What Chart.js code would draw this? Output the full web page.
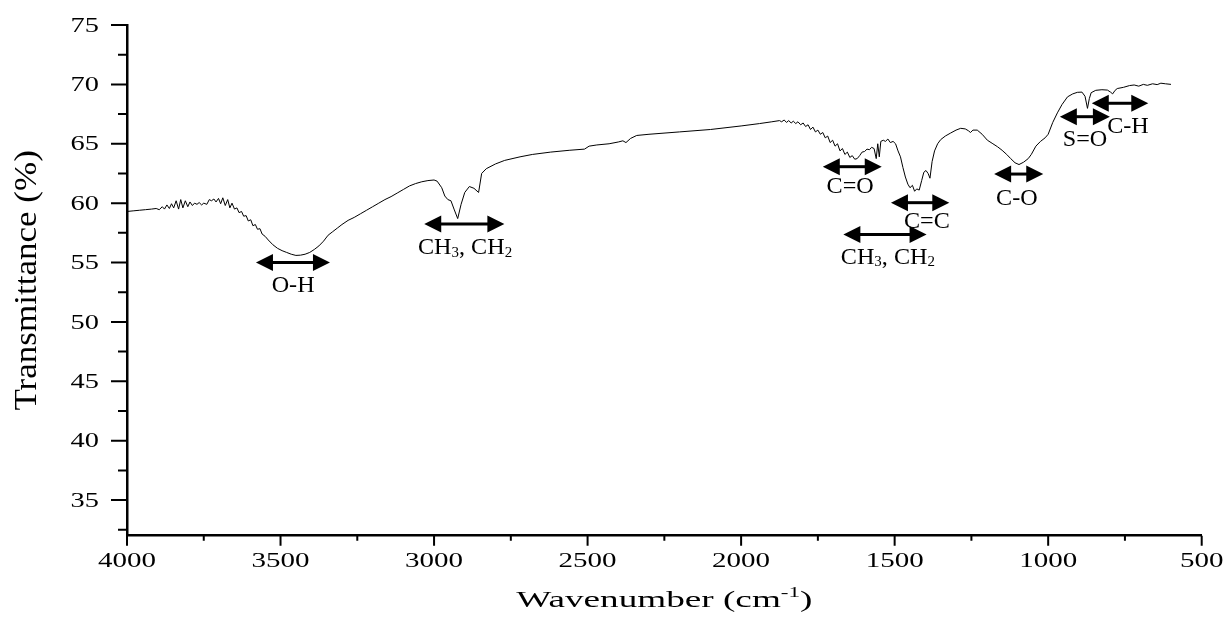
<!DOCTYPE html>
<html>
<head>
<meta charset="utf-8">
<script src="https://cdn.jsdelivr.net/npm/chart.js@4/dist/chart.umd.min.js"></script>
<style>
    html, body { margin: 0; padding: 0; background: #fff; }
    #wrap { width: 1227px; height: 617px; }
</style>
</head>
<body>
<div id="wrap"><canvas id="ftir" width="1227" height="617"></canvas></div>
<script>
// FTIR spectrum, values (cm-1, %T)
const wavenumbers = [
    4000, 3980, 3960, 3940, 3920, 3905, 3895, 3885, 3878, 3870, 3862, 3855, 3848, 3840, 3832, 3825,
    3818, 3810, 3802, 3795, 3787, 3780, 3772, 3765, 3757, 3750, 3740, 3732, 3725, 3717, 3710, 3702,
    3695, 3688, 3680, 3672, 3665, 3658, 3650, 3642, 3635, 3627, 3620, 3612, 3605, 3597, 3590, 3582,
    3575, 3567, 3560, 3550, 3540, 3525, 3510, 3495, 3480, 3465, 3450, 3435, 3420, 3405, 3390, 3375,
    3360, 3345, 3330, 3315, 3300, 3280, 3260, 3240, 3220, 3200, 3180, 3160, 3140, 3120, 3100, 3080,
    3060, 3040, 3020, 3000, 2990, 2975, 2965, 2955, 2945, 2935, 2923, 2912, 2900, 2885, 2870, 2855,
    2845, 2830, 2800, 2770, 2720, 2680, 2620, 2560, 2510, 2495, 2470, 2430, 2400, 2385, 2375, 2360,
    2340, 2300, 2200, 2100, 2000, 1940, 1900, 1875, 1868, 1860, 1852, 1845, 1837, 1830, 1822, 1815,
    1806, 1798, 1790, 1782, 1774, 1766, 1758, 1750, 1742, 1734, 1726, 1718, 1710, 1702, 1694, 1686,
    1678, 1670, 1662, 1654, 1646, 1638, 1630, 1622, 1614, 1606, 1598, 1590, 1582, 1575, 1567, 1560,
    1555, 1550, 1545, 1537, 1530, 1522, 1514, 1505, 1497, 1489, 1481, 1473, 1465, 1457, 1450, 1442,
    1435, 1428, 1420, 1412, 1405, 1398, 1391, 1385, 1378, 1370, 1360, 1350, 1335, 1318, 1300, 1285,
    1270, 1260, 1253, 1245, 1231, 1215, 1198, 1180, 1165, 1150, 1135, 1122, 1108, 1095, 1080, 1065,
    1055, 1040, 1025, 1010, 1000, 985, 970, 955, 937, 920, 905, 890, 880, 872, 866, 860,
    845, 825, 807, 797, 790, 782, 775, 755, 735, 720, 705, 690, 677, 660, 645, 633,
    618, 600
];
const transmittance = [
    59.30, 59.35, 59.40, 59.45, 59.50, 59.55, 59.45, 59.70, 59.50, 59.85, 59.55, 59.95, 59.60, 60.20, 59.50, 60.30,
    59.60, 60.20, 59.70, 60.10, 59.80, 60.00, 59.90, 60.05, 59.85, 60.00, 59.90, 60.30, 60.20, 60.35, 60.10, 60.40,
    59.95, 60.45, 59.80, 60.30, 59.60, 60.00, 59.50, 59.60, 59.20, 59.30, 58.90, 58.95, 58.50, 58.60, 58.10, 58.20,
    57.80, 57.85, 57.40, 57.20, 56.90, 56.50, 56.20, 56.00, 55.85, 55.70, 55.60, 55.62, 55.70, 55.85, 56.10, 56.40,
    56.80, 57.30, 57.60, 57.90, 58.20, 58.55, 58.80, 59.10, 59.40, 59.70, 60.00, 60.30, 60.55, 60.85, 61.15, 61.45,
    61.65, 61.80, 61.90, 61.95, 61.85, 61.30, 60.60, 60.30, 60.20, 59.50, 58.70, 59.90, 60.90, 61.40, 61.25, 60.90,
    62.50, 62.90, 63.30, 63.60, 63.90, 64.10, 64.30, 64.45, 64.55, 64.80, 64.90, 65.00, 65.15, 65.25, 65.10, 65.45,
    65.70, 65.80, 66.00, 66.20, 66.50, 66.70, 66.85, 66.95, 66.85, 67.00, 66.80, 66.95, 66.75, 66.90, 66.70, 66.85,
    66.60, 66.75, 66.45, 66.60, 66.20, 66.40, 66.00, 66.15, 65.80, 65.95, 65.50, 65.65, 65.10, 65.30, 64.80, 65.00,
    64.40, 64.60, 64.10, 64.30, 63.85, 64.00, 63.70, 63.75, 64.00, 64.30, 64.35, 64.55, 64.50, 64.70, 64.60, 63.75,
    65.00, 63.90, 65.20, 65.30, 65.20, 65.40, 65.10, 65.20, 65.00, 64.40, 63.90, 63.00, 62.20, 61.60, 61.30, 61.50,
    61.00, 61.20, 61.10, 61.90, 62.60, 62.75, 62.50, 62.10, 63.50, 64.40, 65.00, 65.35, 65.65, 65.90, 66.15, 66.30,
    66.25, 66.10, 65.95, 66.15, 66.15, 65.80, 65.30, 65.00, 64.75, 64.45, 64.10, 63.75, 63.40, 63.25, 63.45, 63.75,
    64.10, 64.80, 65.20, 65.50, 65.80, 66.80, 67.60, 68.30, 68.95, 69.20, 69.33, 69.35, 69.00, 67.98, 68.80, 69.30,
    69.50, 69.55, 69.52, 69.35, 69.20, 69.50, 69.65, 69.75, 69.90, 69.95, 69.85, 70.00, 69.92, 70.05, 69.98, 70.10,
    70.05, 70.00
];

// Axis ticks
const xMajorTicks = [4000, 3500, 3000, 2500, 2000, 1500, 1000, 500];
const xMinorTicks = [3750, 3250, 2750, 2250, 1750, 1250, 750];
const yMajorTicks = [35, 40, 45, 50, 55, 60, 65, 70, 75];
const yMinorTicks = [32.5, 37.5, 42.5, 47.5, 52.5, 57.5, 62.5, 67.5, 72.5];

// Band assignments: arrow span (cm-1) at a %T level, label position
const bandNames = ['O-H', 'CH_3, CH_2', 'C=O', 'C=C', 'CH_3, CH_2', 'C-O', 'S=O', 'C-H'];
const bandStart = [3580, 3032, 1734, 1512, 1667, 1176, 962, 858];
const bandEnd = [3339, 2771, 1542, 1322, 1396, 1016, 799, 674];
const bandLevel = [55.0, 58.24, 63.07, 60.04, 57.37, 62.45, 67.28, 68.41];
const labelWave = [3459, 2899, 1645, 1395, 1522, 1102, 880, 740];
const labelLevel = [53.0, 56.2, 61.35, 58.4, 55.4, 60.35, 65.3, 66.4];

const SERIF = '"Liberation Serif", "Times New Roman", serif';

// Split "CH_3" / "cm^{-1}" into plain, subscript and superscript runs
function parseRuns(text) {
    const runs = [];
    const re = /([_^])(\{[^}]*\}|.)|[^_^]+/g;
    let m;
    while ((m = re.exec(text))) {
        if (m[1]) {
            runs.push({ t: m[2].replace(/[{}]/g, ''), shift: m[1] === '_' ? 'sub' : 'sup' });
        } else {
            runs.push({ t: m[0], shift: null });
        }
    }
    return runs;
}

// Draw text with optional horizontal stretch (the original figure is stretched)
function drawRichText(ctx, text, x, y, size, stretch, align) {
    const runs = parseRuns(text);
    let width = 0;
    runs.forEach(r => {
        r.size = r.shift ? size * 0.62 : size;
        ctx.font = `${r.size}px ${SERIF}`;
        r.w = ctx.measureText(r.t).width;
        width += r.w;
    });
    ctx.save();
    ctx.translate(x, y);
    ctx.scale(stretch, 1);
    ctx.textAlign = 'left';
    let cx = align === 'right' ? -width : (align === 'left' ? 0 : -width / 2);
    runs.forEach(r => {
        ctx.font = `${r.size}px ${SERIF}`;
        const dy = r.shift === 'sub' ? size * 0.2 : (r.shift === 'sup' ? -size * 0.42 : 0);
        ctx.fillText(r.t, cx, dy);
        cx += r.w;
    });
    ctx.restore();
}

// Tick marks, tick labels and axis titles
const axisDecor = {
    id: 'axisDecor',
    afterDraw(chart) {
        const { ctx, chartArea, scales: { x, y } } = chart;
        const bottom = chartArea.bottom;
        const left = chartArea.left;
        ctx.save();
        ctx.strokeStyle = '#000';
        ctx.fillStyle = '#000';
        ctx.lineWidth = 2;

        ctx.beginPath();
        xMajorTicks.forEach(v => {
            const px = x.getPixelForValue(v);
            ctx.moveTo(px, bottom); ctx.lineTo(px, bottom + 10);
        });
        xMinorTicks.forEach(v => {
            const px = x.getPixelForValue(v);
            ctx.moveTo(px, bottom); ctx.lineTo(px, bottom + 5);
        });
        yMajorTicks.forEach(v => {
            const py = y.getPixelForValue(v);
            ctx.moveTo(left, py); ctx.lineTo(left - 16, py);
        });
        yMinorTicks.forEach(v => {
            const py = y.getPixelForValue(v);
            ctx.moveTo(left, py); ctx.lineTo(left - 9, py);
        });
        ctx.stroke();

        ctx.textBaseline = 'alphabetic';
        xMajorTicks.forEach(v => {
            drawRichText(ctx, String(v), x.getPixelForValue(v), bottom + 31, 20, 1.45, 'center');
        });
        yMajorTicks.forEach(v => {
            drawRichText(ctx, String(v), left - 28, y.getPixelForValue(v) + 6.7, 20, 1.42, 'right');
        });

        drawRichText(ctx, 'Wavenumber (cm^{-1})', (chartArea.left + chartArea.right) / 2, bottom + 71, 24, 1.55, 'center');

        ctx.save();
        ctx.translate(28, (chartArea.top + chartArea.bottom) / 2);
        ctx.rotate(-Math.PI / 2);
        ctx.textBaseline = 'middle';
        drawRichText(ctx, 'Transmittance (%)', 0, 0, 31, 1.13, 'center');
        ctx.restore();

        ctx.restore();
    }
};

// Double-headed arrows and band labels
const bandMarks = {
    id: 'bandMarks',
    afterDatasetsDraw(chart) {
        const { ctx, scales: { x, y } } = chart;
        const head = 17, half = 8.5;
        ctx.save();
        ctx.strokeStyle = '#000';
        ctx.fillStyle = '#000';
        bandNames.forEach((name, i) => {
            const a = x.getPixelForValue(bandStart[i]);
            const b = x.getPixelForValue(bandEnd[i]);
            const l = Math.min(a, b), r = Math.max(a, b);
            const py = y.getPixelForValue(bandLevel[i]);
            ctx.lineWidth = 3;
            ctx.beginPath();
            ctx.moveTo(l + head - 1, py); ctx.lineTo(r - head + 1, py);
            ctx.stroke();
            ctx.beginPath();
            ctx.moveTo(l, py); ctx.lineTo(l + head, py - half); ctx.lineTo(l + head, py + half);
            ctx.closePath();
            ctx.moveTo(r, py); ctx.lineTo(r - head, py - half); ctx.lineTo(r - head, py + half);
            ctx.closePath();
            ctx.fill();

            ctx.textBaseline = 'middle';
            drawRichText(ctx, name, x.getPixelForValue(labelWave[i]), y.getPixelForValue(labelLevel[i]), 23, 1.05, 'center');
        });
        ctx.restore();
    }
};

const points = wavenumbers.map((w, i) => ({ x: w, y: transmittance[i] }));

const axisCommon = {
    ticks: { display: false },
    grid: { display: false, drawTicks: false },
    border: { display: true, color: '#000', width: 2.5 }
};

new Chart(document.getElementById('ftir').getContext('2d'), {
    type: 'line',
    data: {
        datasets: [{
            data: points,
            borderColor: '#000',
            borderWidth: 1,
            pointRadius: 0,
            fill: false,
            tension: 0
        }]
    },
    options: {
        responsive: false,
        animation: false,
        devicePixelRatio: 1,
        layout: { padding: { left: 127, right: 25.3, top: 25, bottom: 81.3 } },
        plugins: {
            legend: { display: false },
            tooltip: { enabled: false }
        },
        scales: {
            x: { ...axisCommon, type: 'linear', min: 500, max: 4000, reverse: true },
            y: { ...axisCommon, min: 32, max: 75 }
        }
    },
    plugins: [axisDecor, bandMarks]
});
</script>
</body>
</html>
